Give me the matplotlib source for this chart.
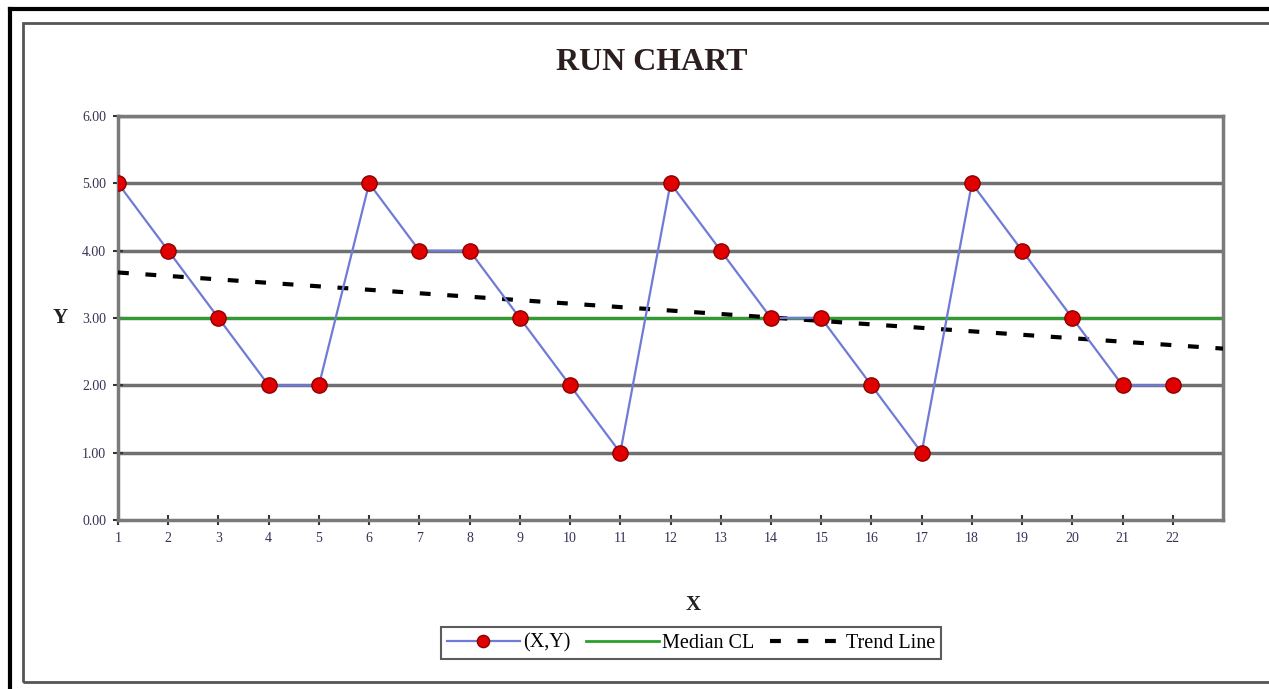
import numpy as np
import matplotlib.pyplot as plt
from matplotlib.patches import Rectangle
from matplotlib.lines import Line2D

x_vals = list(range(1, 23))
y_vals = [5, 4, 3, 2, 2, 5, 4, 4, 3, 2, 1, 5, 4, 3, 3, 2, 1, 5, 4, 3, 2, 2]
median_cl = 3.0
y_ticks = [0, 1, 2, 3, 4, 5, 6]
x_ticks = list(range(1, 23))

W, H = 1269, 689
fig = plt.figure(figsize=(W / 100, H / 100), dpi=100)
serif = ['Liberation Serif', 'DejaVu Serif']

# outer frames
fig.add_artist(Line2D([10 / W, 10 / W], [0, 1 - 9 / H], transform=fig.transFigure, color='black', lw=3))
fig.add_artist(Line2D([10 / W, 1], [1 - 9 / H, 1 - 9 / H], transform=fig.transFigure, color='black', lw=3))
fig.add_artist(Rectangle((23 / W, 1 - 682 / H), (1290 - 23) / W, (682 - 23) / H,
                         transform=fig.transFigure, fill=False, edgecolor='#555555', lw=2))

left, right, top, bottom = 118, 1223, 116, 520
ax = fig.add_axes([left / W, 1 - bottom / H, (right - left) / W, (bottom - top) / H])
ax.set_xlim(1, 23)
ax.set_ylim(0, 6)

for yv in y_ticks[1:]:
    ax.axhline(yv, color='#707070', lw=2.5, zorder=1)

for s in ax.spines.values():
    s.set_color('#7a7a7a')
    s.set_linewidth(2.5)

# trend line from least squares
coef = np.polyfit(x_vals, y_vals, 1)
tx = np.array([1, 23])
ax.plot(tx, np.polyval(coef, tx), color='black', lw=3, ls=(0, (2.6, 4.0)), zorder=3, label='Trend Line')
ax.axhline(median_cl, color='#2ca02c', lw=2, zorder=2, label='Median CL')
ax.plot(x_vals, y_vals, color='#6f7bd6', lw=1.6, marker='o', markersize=11,
        markerfacecolor='#e00000', markeredgecolor='#8b0000', markeredgewidth=1, zorder=4, label='(X,Y)')

ax.set_xticks(x_ticks)
ax.set_xticklabels([str(v) for v in x_ticks], fontsize=10, family=serif, color='#333355')
ax.set_yticks(y_ticks)
ax.set_yticklabels([f'{v:.2f}' for v in y_ticks], fontsize=10, family=serif, color='#333355')
ax.tick_params(axis='both', direction='inout', length=7, width=1.5, color='#333333', pad=5)

fig.text(652 / W, 1 - 62 / H, 'RUN CHART', ha='center', va='center', fontsize=23,
         fontweight='bold', family=serif, color='#2a1e1e')
fig.text(693 / W, 1 - 605 / H, 'X', ha='center', va='center', fontsize=15,
         fontweight='bold', family=serif, color='#222222')
fig.text(60 / W, 1 - 318 / H, 'Y', ha='center', va='center', fontsize=15,
         fontweight='bold', family=serif, color='#222222')

handles, labels = ax.get_legend_handles_labels()
order = [2, 1, 0]
leg = fig.legend([handles[i] for i in order], [labels[i] for i in order],
                 loc='center', bbox_to_anchor=(691 / W, 1 - 643 / H), ncol=3,
                 frameon=True, fancybox=False, edgecolor='#333333',
                 prop={'family': serif, 'size': 14.5}, handlelength=3.6,
                 handletextpad=0.15, columnspacing=0.8, borderpad=0.3,
                 markerscale=0.8)
leg.get_frame().set_linewidth(1.5)

fig.savefig('out.png', dpi=100)
